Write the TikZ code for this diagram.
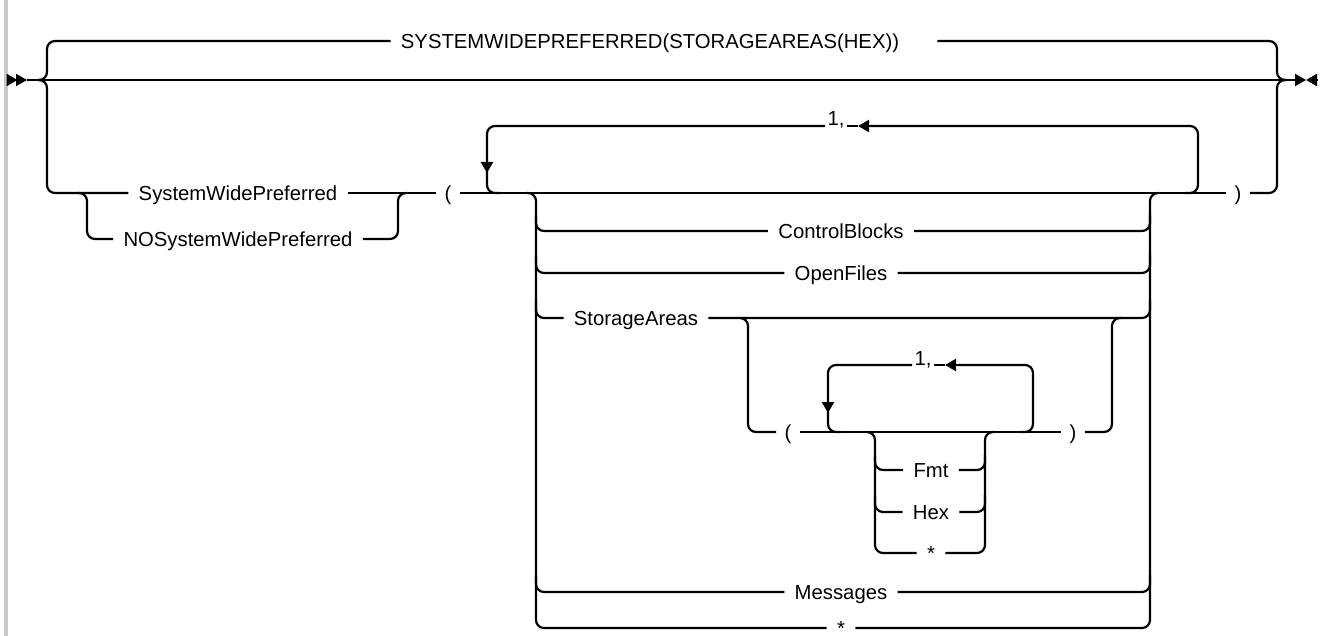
\documentclass[tikz,border=0pt]{standalone}
\usepackage{fontspec}
\setmainfont{Liberation Sans}
\usetikzlibrary{arrows.meta,positioning}

\definecolor{bargrey}{HTML}{C8C8C8}

\begin{document}
\begin{tikzpicture}[x=0.5pt,y=-0.5pt,
    rail/.style={line width=1.1pt,rounded corners=4pt},
    kw/.style={font=\fontsize{10.15}{12}\selectfont,inner xsep=5pt,inner ysep=0pt,
        text height=7.3pt,text depth=0pt},
    paren/.style={kw,inner xsep=4pt},
    rep/.style={font=\fontsize{10.15}{12}\selectfont,inner xsep=1pt,inner ysep=0pt,anchor=base},
    tip/.style={line width=1.1pt,-{Triangle[length=5.5pt,width=6pt]}}]

    \useasboundingbox (0,0) rectangle (1323,636);
    % side bar
    \fill[bargrey] (4,0) rectangle (8,636);

    % keywords
    \node[kw] (sys) at (650,41) {SYSTEMWIDEPREFERRED(STORAGEAREAS(HEX))};
    \node[kw] (swp) at (238,193) {SystemWidePreferred};
    \node[kw] (noswp) at (238,239) {NOSystemWidePreferred};
    \node[paren] (lpar) at (448,193) {(};
    \node[paren] (rpar) at (1238,193) {)};
    \node[rep] (bigone) at (836,126) {1,};
    \node[kw] (cb) at (841,231) {ControlBlocks};
    \node[kw] (of) at (841,273) {OpenFiles};
    \node[kw] (sa) at (636,318) {StorageAreas};
    \node[paren] (slpar) at (788,432) {(};
    \node[paren] (srpar) at (1073,432) {)};
    \node[rep] (smallone) at (923,365) {1,};
    \node[kw] (fmt) at (931,470) {Fmt};
    \node[kw] (hex) at (931,512) {Hex};
    \node[kw] (sstar) at (931,553) {*};
    \node[kw] (msg) at (841,592) {Messages};
    \node[kw] (bstar) at (841,628) {*};

    \coordinate (start) at (27,80);
    \coordinate (stop) at (1296,80);

    % main line and its ends
    \draw[tip] (7,80) -- (17.5,80);
    \draw[tip] (17.5,80) -- (start);
    \draw[rail] (start) -- (stop);
    \draw[tip] (1290,80) -- (1306,80);
    \draw[tip] (1318,80) -- (1306,80);

    % outer choice
    \draw[rail] (38,80) -| (47,41) -- (sys.west);
    \draw[rail] (38,80) -| (47,193) -- (swp.west);
    \draw[rail] ([xshift=14pt]sys.east) -| (1277,80) -- (1286,80);
    \draw[rail] (rpar.east) -| (1277,80) -- (1286,80);

    % SystemWidePreferred / NOSystemWidePreferred
    \draw[rail] (78,193) -| (87,239) -- (noswp.west);
    \draw[rail] (noswp.east) -| (398,193) -- (407,193);
    \draw[rail] (swp.east) -- (lpar.west);
    \draw[rail] (lpar.east) -- (rpar.west);

    % repeat loop
    \draw[rail] (1185,193) -| (1198,126) -- (870,126);
    \draw[tip] (870,126) -- (858,126);
    \draw[rail] (858,126) -- (bigone.base east);
    \draw[rail] (bigone.base west) -| (487,193) -- (500,193);
    \draw[tip] (487,160) -- (487,173);

    % options
    \draw[rail] (527,193) -| (536,628) -- (bstar.west);
    \draw[rail] (536,215) |- (cb.west);
    \draw[rail] (536,255) |- (of.west);
    \draw[rail] (536,300) |- (sa.west);
    \draw[rail] (536,575) |- (msg.west);
    \draw[rail] (bstar.east) -| (1150,193) -- (1159,193);
    \draw[rail] (cb.east) -| (1150,215);
    \draw[rail] (of.east) -| (1150,255);
    \draw[rail] (sa.east) -| (1150,300);
    \draw[rail] (msg.east) -| (1150,575);

    % StorageAreas list
    \draw[rail] (740,318) -| (748,432) -- (slpar.west);
    \draw[rail] (srpar.east) -| (1112,318) -- (1121,318);
    \draw[rail] (slpar.east) -- (srpar.west);

    \draw[rail] (1020,432) -| (1033,365) -- (958,365);
    \draw[tip] (958,365) -- (945,365);
    \draw[rail] (945,365) -- (smallone.base east);
    \draw[rail] (smallone.base west) -| (828,432) -- (841,432);
    \draw[tip] (828,400) -- (828,413);

    \draw[rail] (867,432) -| (875,553) -- (sstar.west);
    \draw[rail] (875,455) |- (fmt.west);
    \draw[rail] (875,495) |- (hex.west);
    \draw[rail] (sstar.east) -| (985,432) -- (994,432);
    \draw[rail] (fmt.east) -| (985,455);
    \draw[rail] (hex.east) -| (985,495);
\end{tikzpicture}
\end{document}
